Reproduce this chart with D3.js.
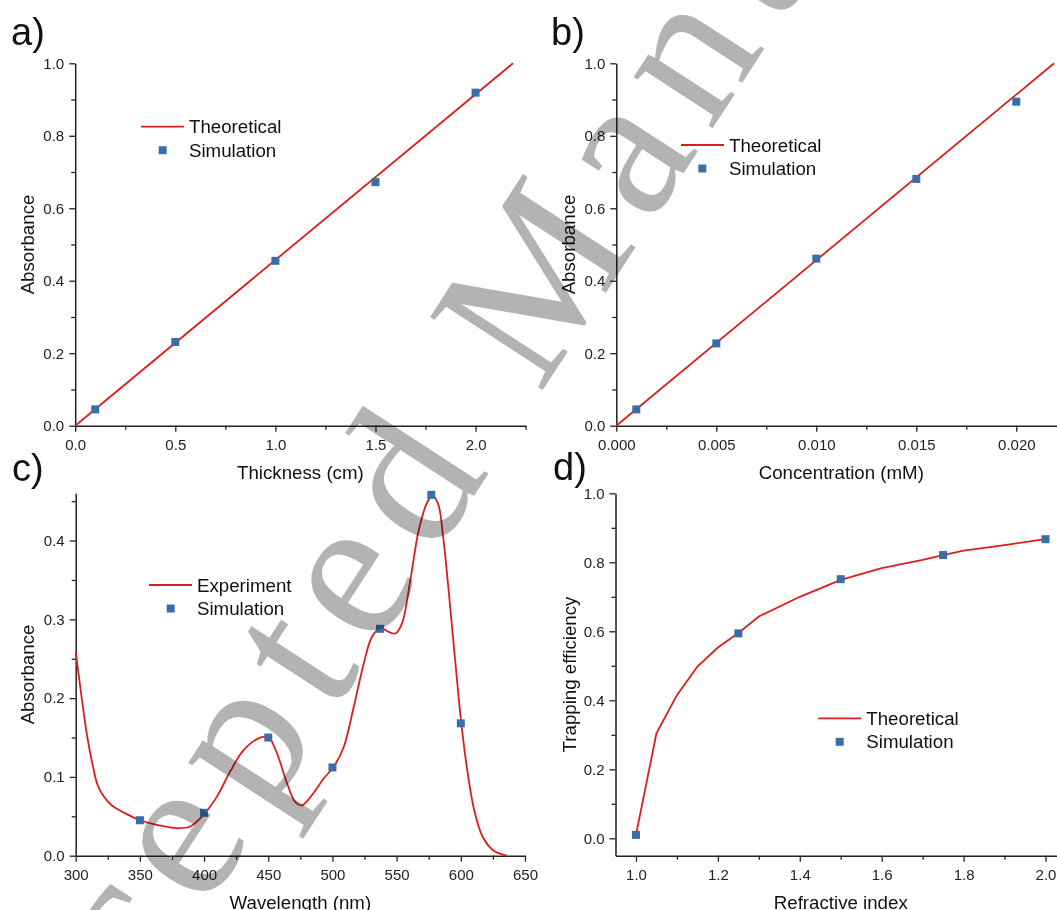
<!DOCTYPE html>
<html>
<head>
<meta charset="utf-8">
<script src="https://cdn.jsdelivr.net/npm/d3@7"></script>
<style>
  body { margin: 0; background: #fff; }
  svg { display: block; font-family: "Liberation Sans", Arial, sans-serif; }
  .tick text { fill: #222; font-size: 15px; }
  .tick line, .domain { stroke: #222; }
</style>
</head>
<body>
<div id="main"></div>
<script>
// a) absorbance vs thickness
const thickSimX = [0.1, 0.5, 1.0, 1.5, 2.0];
const thickSimY = [0.045, 0.231, 0.455, 0.672, 0.919];
const thickTheoX = [0, 2.187];
const thickTheoY = [0, 1.0];

// b) absorbance vs concentration
const concSimX = [0.001, 0.005, 0.010, 0.015, 0.020];
const concSimY = [0.045, 0.227, 0.461, 0.681, 0.894];
const concTheoX = [0, 0.02189];
const concTheoY = [0, 1.0];

// c) spectrum
const waveExpX = [300, 304.7, 309, 313.5, 317, 321.5, 328, 337.2, 350.2, 363.2, 378.8, 389.2, 399.6, 410, 420.4, 430.8,
  443.8, 450.3, 456.8, 464.6, 471.1, 476.3, 484.1, 493.2, 501, 508.8, 516.6, 524.4, 530.8, 537.3, 543.8, 549,
  554.2, 560.7, 567.2, 573.7, 577.6, 582.2, 586.2, 590.2, 595.6, 600.4, 605, 610.4, 617, 625.1, 635.8];
const waveExpY = [0.259, 0.200, 0.151, 0.113, 0.090, 0.076, 0.064, 0.055, 0.045, 0.039, 0.035, 0.037, 0.052, 0.075, 0.107, 0.134,
  0.150, 0.150, 0.130, 0.092, 0.068, 0.064, 0.077, 0.098, 0.113, 0.138, 0.189, 0.244, 0.278, 0.289, 0.284, 0.282,
  0.295, 0.350, 0.413, 0.448, 0.457, 0.447, 0.405, 0.342, 0.248, 0.168, 0.109, 0.058, 0.024, 0.007, 0.0];
const waveSimX = [350, 400, 450, 500, 537, 577, 600];
const waveSimY = [0.045, 0.0545, 0.150, 0.112, 0.288, 0.458, 0.168];

// d) trapping efficiency vs refractive index
const refTheoX = [1.0, 1.05, 1.1, 1.15, 1.2, 1.25, 1.3, 1.4, 1.5, 1.6, 1.7, 1.75, 1.8, 1.9, 2.0];
const refTheoY = [0.01, 0.304, 0.415, 0.498, 0.553, 0.595, 0.643, 0.700, 0.749, 0.783, 0.807, 0.821, 0.834, 0.850, 0.867];
const refSimX = [1.0, 1.25, 1.5, 1.75, 2.0];
const refSimY = [0.01, 0.594, 0.751, 0.821, 0.867];

const red = "#dc1e1e";
const blue = "#3a6ea6";

const zip = (xs, ys) => xs.map((v, i) => [v, ys[i]]);

let svg = d3.select("#main")
  .append("svg")
    .attr("width", 1057)
    .attr("height", 910);

const panels = [
  {label: "a)", lx: 11, ly: 45, left: 75.2, right: 525.6, top: 63.3, bottom: 425.7,
   xDom: [0, 2.25], yDom: [0, 1], xMaj: d3.range(0, 2.01, 0.5), xMin: d3.range(0.25, 2.3, 0.5),
   yMaj: d3.range(0, 1.01, 0.2), yMin: d3.range(0.1, 1, 0.2), xFmt: ".1f",
   xTitle: "Thickness (cm)", yTitle: "Absorbance", ytx: 34,
   line: zip(thickTheoX, thickTheoY), sim: zip(thickSimX, thickSimY), curve: d3.curveLinear,
   leg: {x: 141, y: 126.7, mx: 162.7, name: "Theoretical"}},
  {label: "b)", lx: 551, ly: 45, left: 616.3, right: 1066.3, top: 63.3, bottom: 425.7,
   xDom: [0, 0.0225], yDom: [0, 1], xMaj: [0, 0.005, 0.01, 0.015, 0.02], xMin: [0.0025, 0.0075, 0.0125, 0.0175, 0.0225],
   yMaj: d3.range(0, 1.01, 0.2), yMin: d3.range(0.1, 1, 0.2), xFmt: ".3f",
   xTitle: "Concentration (mM)", yTitle: "Absorbance", ytx: 575,
   line: zip(concTheoX, concTheoY), sim: zip(concSimX, concSimY), curve: d3.curveLinear,
   leg: {x: 681, y: 145, mx: 702.3, name: "Theoretical"}},
  {label: "c)", lx: 12, ly: 481, left: 75.7, right: 525, top: 493.3, bottom: 855.7,
   xDom: [300, 650], yDom: [0, 0.46], xMaj: d3.range(300, 651, 50), xMin: d3.range(325, 650, 50),
   yMaj: [0, 0.1, 0.2, 0.3, 0.4], yMin: [0.05, 0.15, 0.25, 0.35, 0.45], xFmt: "d",
   xTitle: "Wavelength (nm)", yTitle: "Absorbance", ytx: 34,
   line: zip(waveExpX, waveExpY), sim: zip(waveSimX, waveSimY), curve: d3.curveCatmullRom,
   leg: {x: 149, y: 585, mx: 170.7, name: "Experiment"}},
  {label: "d)", lx: 553, ly: 480, left: 615.5, right: 1066, top: 493.3, bottom: 855.7,
   xDom: [0.95, 2.05], yDom: [-0.0504, 1], xMaj: d3.range(1, 2.01, 0.2), xMin: d3.range(1.1, 2, 0.2),
   yMaj: d3.range(0, 1.01, 0.2), yMin: d3.range(0.1, 1, 0.2), xFmt: ".1f",
   xTitle: "Refractive index", yTitle: "Trapping efficiency", ytx: 576,
   line: zip(refTheoX, refTheoY), sim: zip(refSimX, refSimY), curve: d3.curveLinear,
   leg: {x: 818.3, y: 718.3, mx: 839.7, name: "Theoretical"}}
];

panels.forEach(p => {
  let x = d3.scaleLinear().domain(p.xDom).range([p.left, p.right]);
  let y = d3.scaleLinear().domain(p.yDom).range([p.bottom, p.top]);
  let g = svg.append("g");

  // axes: major ticks with labels, minor ticks without
  g.append("g")
    .attr("transform", `translate(0,${p.bottom})`)
    .call(d3.axisBottom(x).tickValues(p.xMaj).tickSize(6).tickSizeOuter(0)
      .tickPadding(8).tickFormat(d3.format(p.xFmt)));
  g.append("g")
    .attr("transform", `translate(0,${p.bottom})`)
    .call(d3.axisBottom(x).tickValues(p.xMin).tickSize(4).tickFormat(""))
    .select(".domain").remove();
  g.append("g")
    .attr("transform", `translate(${p.left},0)`)
    .call(d3.axisLeft(y).tickValues(p.yMaj).tickSize(6).tickSizeOuter(0)
      .tickPadding(5).tickFormat(d3.format(".1f")));
  g.append("g")
    .attr("transform", `translate(${p.left},0)`)
    .call(d3.axisLeft(y).tickValues(p.yMin).tickSize(4).tickFormat(""))
    .select(".domain").remove();
  g.selectAll(".domain").attr("stroke-width", 1.5);
  g.selectAll(".tick line").attr("stroke-width", 1.3);

  // titles
  g.append("text")
    .attr("x", (p.left + p.right) / 2)
    .attr("y", p.bottom + 53)
    .attr("text-anchor", "middle")
    .style("font-size", "18.7px")
    .attr("fill", "#111")
    .text(p.xTitle);
  g.append("text")
    .attr("transform", `translate(${p.ytx},${(p.top + p.bottom) / 2}) rotate(-90)`)
    .attr("text-anchor", "middle")
    .style("font-size", "18.7px")
    .attr("fill", "#111")
    .text(p.yTitle);
  g.append("text")
    .attr("x", p.lx)
    .attr("y", p.ly)
    .style("font-size", "38px")
    .attr("fill", "#111")
    .text(p.label);

  // data
  g.append("path")
    .datum(p.line)
    .attr("fill", "none")
    .attr("stroke", red)
    .attr("stroke-width", 1.8)
    .attr("d", d3.line().x(d => x(d[0])).y(d => y(d[1])).curve(p.curve));
  g.selectAll("rect.sim")
    .data(p.sim)
    .enter()
    .append("rect")
      .attr("class", "sim")
      .attr("x", d => x(d[0]) - 4)
      .attr("y", d => y(d[1]) - 4)
      .attr("width", 8)
      .attr("height", 8)
      .attr("fill", blue);

  // legend
  let l = p.leg;
  g.append("line")
    .attr("x1", l.x).attr("x2", l.x + 43)
    .attr("y1", l.y).attr("y2", l.y)
    .attr("stroke", red)
    .attr("stroke-width", 1.8);
  g.append("rect")
    .attr("x", l.mx - 4).attr("y", l.y + 23.5 - 4)
    .attr("width", 8).attr("height", 8)
    .attr("fill", blue);
  g.selectAll("text.leg")
    .data([l.name, "Simulation"])
    .enter()
    .append("text")
      .attr("class", "leg")
      .attr("x", l.x + 48)
      .attr("y", (d, i) => l.y + 6.5 + i * 23.5)
      .style("font-size", "18.7px")
      .attr("fill", "#111")
      .text(d => d);
});

// watermark
svg.append("text")
  .attr("transform", "translate(-8,1238) rotate(-57)")
  .style("font-family", "'Liberation Serif', 'Times New Roman', serif")
  .style("font-size", "205px")
  .style("letter-spacing", "20px")
  .style("mix-blend-mode", "multiply")
  .attr("fill", "#b3b3b3")
  .text("Accepted Manuscript");
</script>
</body>
</html>
